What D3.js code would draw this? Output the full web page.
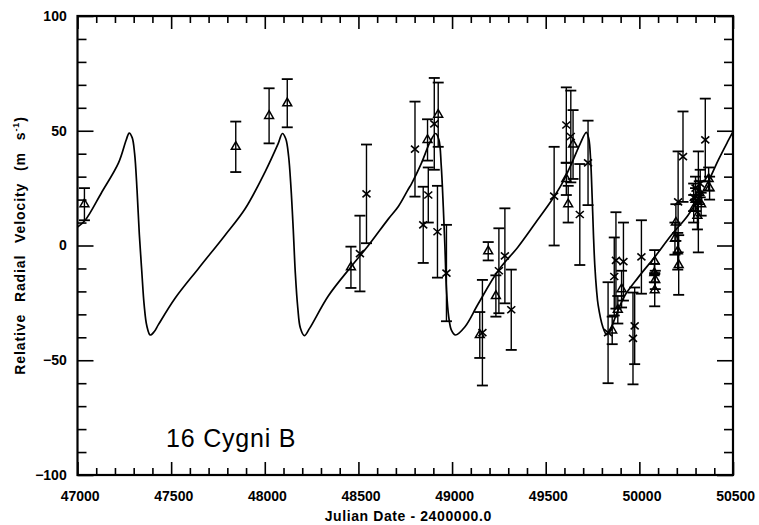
<!DOCTYPE html>
<html><head><meta charset="utf-8">
<script src="https://cdn.jsdelivr.net/npm/d3@7"></script>
<style>
body{margin:0;background:#fff}
svg text{font-family:"Liberation Sans",Arial,Helvetica,sans-serif;fill:#000}
</style></head>
<body><svg id="chart" width="759" height="525"></svg>
<script>
// ---- data ----
const xTickValues=[47000,47500,48000,48500,49000,49500,50000,50500];
const yTickValues=[-100,-50,0,50,100];
const xLabel="Julian Date - 2400000.0";
const yLabel="Relative Radial Velocity (m s";
const starName="16 Cygni B";

// fitted orbit curve
const curveJD=[47000,47041,47128,47219,47260,47276,47292,47305,47318,47330,47343,47356,47370,47388,47410,47432,47521,47646,47788,47895,48001,48072,48094,48112,48127,48140,48152,48163,48176,48190,48211,48240,48339,48463,48553,48659,48713,48766,48784,48837,48882,48912,48930,48942,48953,48962,48970,48982,48997,49018,49068,49139,49246,49353,49442,49530,49584,49637,49682,49717,49730,49740,49748,49755,49762,49771,49780,49805,49825,49845,49868,49921,49993,50082,50171,50260,50366,50420,50470,50500];
const curveRV=[8,11,23,36,46,49,47,40,24,5,-11,-26,-35,-39,-37.5,-34.5,-23,-10,4.5,16,32,44.5,48.8,46.5,39,25,7,-12,-27,-36,-39.3,-36,-22,-9,0,11.5,17,24.5,27,36,45,48.8,46,35,17,-1,-19,-31,-37,-39,-35.5,-25.5,-11,-0.5,9.5,19.5,26.5,35.5,44,49.3,46.5,37,21,4.5,-8.5,-19,-26,-35.5,-38.8,-37,-32,-22,-14,-5,4.6,13.2,27.6,37,45,49.6];

// triangle observations
const triJD=[47037,47845,48023,48120,48460,48869,48926,49148,49193,49234,49610,49620,49646,49855,49885,49905,50082,50080,50085,50082,50190,50195,50205,50210,50290,50300,50310,50320,50330,50370,50375];
const triRV=[18,43,56.5,62,-9.5,46,57,-39,-2.5,-22,29,18,44,-37,-28,-19,-7,-12,-15,-19.5,3,10,-2.5,-8.5,16,20,13,23,18,29,25];
const triErr=[7,11,12,10.5,9,9,14,10,4,9,7,8,15,6,6,8,5,4,4,7,7,8,8,13,6,5,6,5,5,5,5];

// cross observations
const crossJD=[48508,48543,48802,48846,48873,48905,48922,48970,49162,49250,49282,49316,49545,49610,49634,49682,49726,49833,49866,49875,49915,49966,49975,50011,50207,50233,50290,50300,50315,50325,50352];
const crossRV=[-3.5,22.5,42,9,22,53,6,-12,-38,-11,-4.5,-28,21.5,52.5,47.5,13.5,36,-38,-13.5,-6.5,-7,-40.5,-35,-5,19,38.7,21,25,19,27,46];
const crossErr=[16.5,21.5,20.7,16.6,12,20,20,21,23,18.5,20.7,17.5,21.5,16.4,20,22,18.4,22,17,21,17,20,16.7,16,22,19.7,6,5,22,6,18];

// ---- drawing ----
const svg=d3.select("#chart");
const L=77.5,R=733,T=16,B=475;
const x=d3.scaleLinear().domain([47000,50500]).range([L,R]);
const y=d3.scaleLinear().domain([-100,100]).range([B,T]);

const xMinor=d3.range(47000,50501,100).filter(v=>!xTickValues.includes(v));
const yMinor=d3.range(-100,101,10).filter(v=>!yTickValues.includes(v));

function styleAxis(g){g.select(".domain").remove();g.selectAll(".tick line").attr("stroke","#000").attr("stroke-width",1.6);}

// bottom
svg.append("g").attr("transform",`translate(0,${B})`)
  .call(d3.axisBottom(x).tickValues(xTickValues).tickSize(-13).tickPadding(16).tickFormat(d3.format("d")))
  .call(styleAxis)
  .call(g=>g.selectAll("text").attr("font-size",14).attr("font-weight","bold").attr("dx","0.15em"));
svg.append("g").attr("transform",`translate(0,${B})`)
  .call(d3.axisBottom(x).tickValues(xMinor).tickSize(-7).tickFormat(""))
  .call(styleAxis);
// top
svg.append("g").attr("transform",`translate(0,${T})`)
  .call(d3.axisTop(x).tickValues(xTickValues).tickSize(-13).tickFormat(""))
  .call(styleAxis);
svg.append("g").attr("transform",`translate(0,${T})`)
  .call(d3.axisTop(x).tickValues(xMinor).tickSize(-7).tickFormat(""))
  .call(styleAxis);
// left
svg.append("g").attr("transform",`translate(${L},0)`)
  .call(d3.axisLeft(y).tickValues(yTickValues).tickSize(-16).tickPadding(8).tickFormat(d3.format("d")))
  .call(styleAxis)
  .call(g=>g.selectAll("text").attr("font-size",14).attr("font-weight","bold").attr("dx","-0.2em"));
svg.append("g").attr("transform",`translate(${L},0)`)
  .call(d3.axisLeft(y).tickValues(yMinor).tickSize(-9).tickFormat(""))
  .call(styleAxis);
// right
svg.append("g").attr("transform",`translate(${R},0)`)
  .call(d3.axisRight(y).tickValues(yTickValues).tickSize(-16).tickFormat(""))
  .call(styleAxis);
svg.append("g").attr("transform",`translate(${R},0)`)
  .call(d3.axisRight(y).tickValues(yMinor).tickSize(-9).tickFormat(""))
  .call(styleAxis);

// frame
svg.append("rect").attr("x",L).attr("y",T).attr("width",R-L).attr("height",B-T)
  .attr("fill","none").attr("stroke","#000").attr("stroke-width",2.2);

// curve
const curvePts=curveJD.map((d,i)=>[d,curveRV[i]]);
svg.append("path").datum(curvePts)
  .attr("fill","none").attr("stroke","#000").attr("stroke-width",1.7)
  .attr("d",d3.line().x(d=>x(d[0])).y(d=>y(d[1])).curve(d3.curveCatmullRom.alpha(0.5)));

// error bars
function errorBars(jd,rv,err){
  const g=svg.append("g").attr("stroke","#000").attr("stroke-width",1.4).attr("fill","none");
  jd.forEach((d,i)=>{
    const cx=x(d),y1=y(rv[i]+err[i]),y2=y(rv[i]-err[i]);
    g.append("line").attr("x1",cx).attr("x2",cx).attr("y1",y1).attr("y2",y2);
    g.append("line").attr("x1",cx-5.5).attr("x2",cx+5.5).attr("y1",y1).attr("y2",y1).attr("stroke-width",1.8);
    g.append("line").attr("x1",cx-5.5).attr("x2",cx+5.5).attr("y1",y2).attr("y2",y2).attr("stroke-width",1.8);
  });
}
errorBars(triJD,triRV,triErr);
errorBars(crossJD,crossRV,crossErr);

// triangles
const tri=d3.symbol().type(d3.symbolTriangle).size(34);
svg.append("g").selectAll("path").data(triJD.map((d,i)=>[d,triRV[i]])).join("path")
  .attr("transform",d=>`translate(${x(d[0])},${y(d[1])})`)
  .attr("d",tri).attr("fill","none").attr("stroke","#000").attr("stroke-width",1.5);

// crosses
svg.append("g").selectAll("path").data(crossJD.map((d,i)=>[d,crossRV[i]])).join("path")
  .attr("d",d=>{const cx=x(d[0]),cy=y(d[1]),p=d3.path();
    p.moveTo(cx-4,cy-3.5);p.lineTo(cx+4,cy+3.5);p.moveTo(cx+4,cy-3.5);p.lineTo(cx-4,cy+3.5);return p.toString();})
  .attr("fill","none").attr("stroke","#000").attr("stroke-width",1.6);

// labels
svg.append("text").attr("x",(L+R)/2+3).attr("y",521).attr("text-anchor","middle")
  .attr("font-size",14).attr("font-weight","bold").attr("letter-spacing",0.6).text(xLabel);
const yl=svg.append("text").attr("transform",`translate(25,${(T+B)/2}) rotate(-90)`)
  .attr("text-anchor","middle").attr("font-size",14).attr("font-weight","bold")
  .attr("letter-spacing",0.9).attr("word-spacing",7);
yl.append("tspan").text(yLabel);
yl.append("tspan").attr("dy",-6).attr("font-size",9).text("-1");
yl.append("tspan").attr("dy",6).text(")");
svg.append("text").attr("x",166).attr("y",447).attr("font-size",25).attr("letter-spacing",0.8).text(starName);
</script></body></html>
